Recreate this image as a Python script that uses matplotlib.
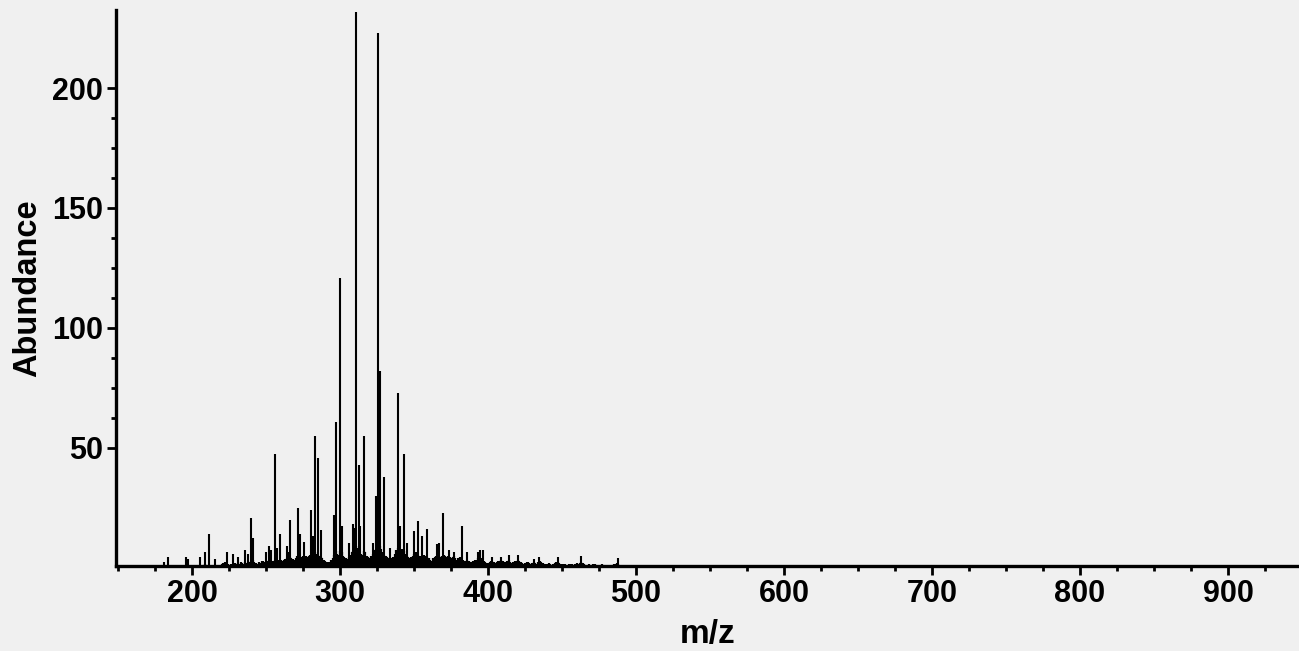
import matplotlib
matplotlib.use('Agg')
import matplotlib.pyplot as plt
from matplotlib.ticker import FixedLocator
import numpy as np

# prominent peaks (m/z, abundance)
peak_mz = [181, 183.6, 195.7, 197.1, 205.6, 209, 211.7, 215.5, 223.9, 227.7,
           231, 236, 237.5, 239.9, 241.2, 249.7, 252, 253.4, 255.9, 257.3,
           259.5, 264.4, 265.5, 266.2, 271.6, 273, 275.7, 280.4, 282, 283,
           285.3, 287, 296.2, 297.5, 300, 301, 306, 308.6, 309.7, 311,
           312.6, 313.7, 316, 322, 324, 325.7, 326.8, 329.5, 334, 339.2,
           340.5, 343, 345, 350, 352.5, 355.6, 359, 365.7, 367, 369.8,
           373.4, 377.2, 382.2, 385.8, 393.5, 394.6, 396.8, 403, 409, 414,
           420, 431, 434.7, 447, 462.8, 487.6, 658, 696]
peak_ab = [2.5, 4.7, 4.4, 3.7, 4.4, 6.8, 14, 3.7, 6.8, 6,
           4.7, 7.5, 6, 20.7, 12.6, 6.8, 9.2, 7.5, 47.4, 8.4,
           14, 9.2, 6.8, 20, 25, 14, 11, 24, 13.3, 55,
           45.7, 16, 22, 60.8, 121, 17.6, 10.4, 18.2, 16.6, 231.5,
           43, 17.5, 55, 10.4, 30, 223, 82, 38, 8.4, 73,
           17.5, 47.4, 10.4, 15.4, 19.7, 13.4, 16.2, 9.9, 10.4, 22.8,
           7.5, 6.8, 17.6, 6.8, 6.8, 7.5, 7.5, 4.4, 4.7, 5.3,
           5.3, 3.7, 4.4, 4.7, 5, 4, 1, 1]

# low-level background, one value per integer m/z from 180 to 520
noise_start = 180
noise_ab = [
    0.3, 0.5, 0.4, 0.3, 0.6, 0.3, 0.2, 0.4, 0.3, 0.2,
    0.5, 0.3, 0.4, 0.6, 0.3, 1.2, 0.8, 1.0, 0.5, 0.4,
    0.6, 0.4, 0.5, 0.8, 1.0, 0.7, 0.9, 1.2, 0.6, 1.5,
    0.8, 1.2, 1.0, 0.7, 0.9, 1.3, 0.8, 0.6, 0.7, 1.0,
    1.5, 2.0, 2.5, 1.8, 1.5, 1.2, 1.6, 1.4, 1.9, 2.2,
    1.5, 2.0, 1.8, 2.4, 2.0, 1.6, 2.5, 2.2, 1.8, 2.6,
    3.0, 3.5, 2.5, 2.0, 1.8, 2.5, 2.2, 2.8, 3.0, 2.6,
    2.4, 3.0, 3.2, 2.8, 2.5, 3.0, 3.5, 2.6, 3.0, 3.2,
    3.5, 2.8, 3.2, 3.6, 4.0, 3.4, 4.5, 4.0, 3.8, 3.2,
    4.0, 5.0, 4.5, 4.0, 4.5, 5.0, 4.2, 5.0, 4.6, 4.8,
    5.5, 6.0, 5.0, 6.5, 6.0, 5.5, 5.0, 4.5, 4.0, 3.5,
    3.0, 2.5, 2.4, 2.6, 3.2, 4.0, 5.5, 7.0, 6.0, 5.5,
    7.0, 6.5, 5.0, 4.5, 4.0, 3.8, 4.5, 5.5, 6.5, 7.0,
    8.0, 9.0, 8.5, 7.0, 6.0, 5.5, 7.0, 6.5, 5.0, 4.5,
    4.0, 5.0, 6.0, 7.5, 8.0, 9.0, 10.0, 9.0, 8.0, 6.5,
    5.5, 5.0, 4.5, 4.0, 3.8, 4.0, 4.5, 6.0, 7.5, 8.5,
    8.0, 7.5, 8.0, 7.0, 6.0, 5.0, 4.5, 4.0, 4.5, 5.0,
    6.0, 6.5, 6.0, 5.5, 5.0, 4.5, 5.0, 5.5, 4.8, 4.5,
    4.0, 3.5, 3.0, 4.0, 4.5, 5.0, 5.5, 5.0, 4.5, 5.0,
    5.5, 5.0, 4.5, 5.0, 4.6, 4.0, 4.5, 5.0, 4.0, 3.5,
    4.0, 4.5, 4.0, 3.5, 3.0, 2.8, 3.5, 3.0, 2.5, 2.6,
    2.8, 3.2, 3.5, 4.0, 4.5, 4.0, 3.5, 3.0, 2.5, 2.2,
    2.0, 2.4, 2.8, 3.0, 2.5, 2.2, 2.6, 3.0, 2.8, 3.2,
    3.0, 2.6, 2.4, 2.8, 3.2, 2.6, 2.2, 2.5, 2.8, 3.0,
    3.2, 2.8, 2.4, 2.0, 1.8, 2.2, 2.6, 2.4, 2.0, 1.8,
    2.0, 2.4, 2.2, 1.8, 2.5, 2.8, 2.4, 2.0, 1.6, 1.5,
    1.8, 2.0, 1.6, 1.4, 1.8, 2.2, 2.4, 2.6, 2.0, 1.8,
    1.6, 1.5, 1.8, 1.4, 1.2, 1.5, 1.8, 1.6, 1.4, 1.8,
    2.0, 1.8, 2.2, 2.5, 2.0, 1.6, 1.4, 1.2, 1.5, 1.4,
    1.2, 1.5, 1.8, 1.4, 1.2, 1.0, 1.4, 1.6, 1.2, 1.0,
    1.2, 1.4, 1.1, 1.0, 1.3, 1.5, 1.8, 2.0, 1.5, 1.2,
    1.0, 0.9, 1.1, 0.8, 1.0, 0.9, 0.7, 0.8, 0.6, 0.7,
    0.8, 0.6, 0.7, 1.0, 1.2, 1.0, 1.1, 0.8, 0.6, 0.5,
    0.5, 0.6, 0.4, 0.5, 1.0, 0.6, 0.9, 0.4, 0.3, 0.4,
    0.3]
noise_mz = np.arange(noise_start, noise_start + len(noise_ab))

x_major = [200, 300, 400, 500, 600, 700, 800, 900]
x_minor = [m for m in range(150, 950, 25) if m % 100 != 0]
y_major = [50, 100, 150, 200]
y_minor = [62.5, 75, 87.5, 112.5, 125, 137.5, 162.5, 175, 187.5]

bg = '#f0f0f0'
plt.rcParams['font.family'] = ['Liberation Sans', 'DejaVu Sans']
plt.rcParams['font.weight'] = 'bold'

fig = plt.figure(figsize=(12.99, 6.51), dpi=100, facecolor=bg)
ax = fig.add_axes([0.0893, 0.1306, 0.9107, 0.854], facecolor=bg)

ax.vlines(noise_mz, 0, noise_ab, color='black', lw=1.6)
ax.vlines(peak_mz, 0, peak_ab, color='black', lw=1.5)

ax.set_xlim(148.6, 948)
ax.set_ylim(0.8, 232.5)

for s in ['top', 'right']:
    ax.spines[s].set_visible(False)
for s in ['left', 'bottom']:
    ax.spines[s].set_linewidth(2.4)

ax.xaxis.set_major_locator(FixedLocator(x_major))
ax.xaxis.set_minor_locator(FixedLocator(x_minor))
ax.yaxis.set_major_locator(FixedLocator(y_major))
ax.yaxis.set_minor_locator(FixedLocator(y_minor))
ax.tick_params(which='major', direction='out', length=6.5, width=2,
               labelsize=22, pad=3)
ax.tick_params(which='minor', direction='out', length=3.5, width=2)
for lab in ax.get_xticklabels() + ax.get_yticklabels():
    lab.set_fontweight('bold')

ax.set_xlabel('m/z', fontsize=24, fontweight='bold', labelpad=7)
ax.set_ylabel('Abundance', fontsize=23.5, fontweight='bold', labelpad=6)

plt.savefig('out.png', dpi=100, facecolor=bg)
